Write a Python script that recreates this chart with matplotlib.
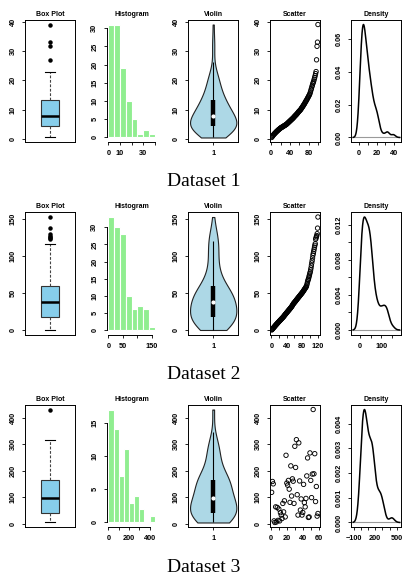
import numpy as np
import matplotlib
matplotlib.use("Agg")
import matplotlib.pyplot as plt

plt.rcParams['font.family'] = ['Liberation Sans', 'DejaVu Sans']

# raw values (datasets 1 and 2 are plotted sorted)
data1 = [0.6, 0.9, 1.1, 1.3, 1.5, 1.7, 1.9, 2.0, 2.2, 2.4, 2.5, 2.7, 2.8, 3.0, 3.1,
         3.3, 3.4, 3.5, 3.7, 3.8, 3.9, 4.0, 4.1, 4.2, 4.3, 4.4, 4.5, 4.6, 4.7, 4.8, 4.9,
         5.0, 5.1, 5.3, 5.4, 5.6, 5.7, 5.9, 6.0, 6.2, 6.3, 6.5, 6.6, 6.8, 6.9, 7.1,
         7.2, 7.4, 7.6, 7.8, 7.9, 8.1, 8.3, 8.4, 8.6, 8.8, 9.0, 9.2, 9.4, 9.6, 9.7, 9.9,
         10.1, 10.3, 10.6, 10.8, 11.0, 11.3, 11.5, 11.8, 12.0, 12.3, 12.6, 12.9, 13.1,
         13.4, 13.7, 14.0, 14.3, 14.6, 14.9,
         15.2, 15.6, 16.1, 16.7, 17.2, 17.8, 18.3, 18.9, 19.3, 19.8,
         20.4, 21.0, 21.6, 22.3, 23.0, 27.0, 31.6, 33.0, 39.0]

data2 = [0.5, 1.2, 1.8, 2.3, 3.0, 3.6, 4.1, 4.8, 5.5, 6.0, 6.7, 7.3, 7.9, 8.4, 9.0,
         9.6, 10.2, 10.8, 11.3, 11.9, 12.5, 13.0, 13.6, 14.1, 14.7, 15.2, 15.8, 16.3,
         16.9, 17.4, 18.0, 18.6, 19.3,
         20.0, 20.7, 21.3, 22.0, 22.6, 23.2, 23.9, 24.5, 25.1, 25.8, 26.4, 27.0, 27.6,
         28.3, 28.9, 29.5, 30.2, 30.8, 31.5, 32.2, 33.0, 33.9, 34.8, 35.6, 36.3, 37.0,
         37.6, 38.2, 38.8, 39.5,
         40.2, 40.9, 41.6, 42.2, 42.9, 43.5, 44.2, 44.8, 45.5, 46.1, 46.8, 47.4, 48.1,
         48.7, 49.4, 50.0, 50.7, 51.4, 52.1, 52.9, 53.7, 54.5, 55.3, 56.1, 56.9, 57.7,
         58.5, 59.3,
         61.0, 63.2, 65.5, 67.4, 68.9, 70.5, 72.8, 74.6, 76.9, 78.8,
         81.5, 84.3, 87.6, 91.0, 94.2, 97.8,
         101.5, 104.0, 106.8, 109.5, 112.3, 114.8, 117.0,
         123.0, 124.7, 126.5, 128.0, 130.5, 138.0, 153.0]

data3 = [118, 159, 150, 10, 4, 63, 6, 61, 12, 55, 10, 41, 32, 19, 76, 44, 86, 25,
         258, 153, 145, 163, 130, 80, 218, 104, 169, 160, 76, 292, 212, 317, 109, 32,
         305, 161, 51, 93, 32, 42, 148, 79, 63, 95, 180, 248, 23, 25, 267, 163, 98,
         187, 431, 188, 264, 83, 140, 28, 38]

# histogram breaks
breaks1 = [0, 5, 10, 15, 20, 25, 30, 35, 40]
breaks2 = [0, 20, 40, 60, 80, 100, 120, 140, 160]
breaks3 = [0, 50, 100, 150, 200, 250, 300, 350, 400, 450]

# tick values / labels (R drops labels that would overlap)
val_ticks = [[0, 10, 20, 30, 40], [0, 50, 100, 150], [0, 100, 200, 300, 400]]
hist_yticks = [[0, 5, 10, 15, 20, 25, 30], [0, 5, 10, 15, 20, 25, 30], [0, 5, 10, 15]]
hist_xticks = [[0, 10, 20, 30, 40], [0, 50, 100, 150], [0, 100, 200, 300, 400]]
hist_xlabels = [['0', '10', '', '30', ''], ['0', '50', '', '150'],
                ['0', '', '200', '', '400']]
sc_xticks = [[0, 20, 40, 60, 80, 100], [0, 20, 40, 60, 80, 100, 120],
             [0, 10, 20, 30, 40, 50, 60]]
sc_xlabels = [['0', '', '40', '', '80', ''], ['0', '', '40', '', '80', '', '120'],
              ['0', '', '20', '', '40', '', '60']]
dens_xticks = [[0, 10, 20, 30, 40], [0, 50, 100, 150],
               [-100, 0, 100, 200, 300, 400, 500]]
dens_xlabels = [['0', '', '20', '', '40'], ['0', '', '100', ''],
                ['\u2212100', '', '', '200', '', '', '500']]
dens_yticks = [[0, 0.02, 0.04, 0.06], [0, 0.002, 0.004, 0.006, 0.008, 0.010, 0.012],
               [0, 0.001, 0.002, 0.003, 0.004]]
dens_ylabels = [['0.00', '0.02', '0.04', '0.06'],
                ['0.000', '', '0.004', '', '0.008', '', '0.012'],
                ['0.000', '0.001', '0.002', '0.003', '0.004']]

datasets = [data1, data2, data3]
breaks = [breaks1, breaks2, breaks3]
sorted_scatter = [True, True, False]
titles = ['Box Plot', 'Histogram', 'Violin', 'Scatter', 'Density']


def rlim(lo, hi):
    pad = 0.04 * (hi - lo)
    return lo - pad, hi + pad


def nrd0(x):
    iqr = np.percentile(x, 75) - np.percentile(x, 25)
    lo = min(np.std(x, ddof=1), iqr / 1.34)
    return 0.9 * lo * len(x) ** -0.2


def kde(x, bw, grid):
    z = (grid[:, None] - x[None, :]) / bw
    return np.exp(-0.5 * z ** 2).sum(axis=1) / (len(x) * bw * np.sqrt(2 * np.pi))


def style(ax, frame=True):
    for s in ax.spines.values():
        s.set_linewidth(0.7)
        s.set_color('black')
    if not frame:
        ax.spines['top'].set_visible(False)
        ax.spines['right'].set_visible(False)
    ax.tick_params(length=2.5, width=0.6, labelsize=5.3, pad=3.5, color='black')
    for lab in ax.get_xticklabels() + ax.get_yticklabels():
        lab.set_fontweight('bold')


def set_y(ax, ticks, labels=None):
    ax.set_yticks(ticks)
    ax.set_yticklabels(labels if labels is not None else [str(t) for t in ticks],
                       rotation=90, va='center')


W, H = 408, 579
fig = plt.figure(figsize=(W / 100, H / 100), dpi=100)

for r in range(3):
    x = np.array(datasets[r], dtype=float)
    n = len(x)
    top = 20 + 192.5 * r
    axes = []
    for c in range(5):
        left = 25 + 81.6 * c
        ax = fig.add_axes([left / W, 1 - (top + 122) / H, 50 / W, 122 / H])
        ax.set_title(titles[c], fontsize=5, fontweight='bold', pad=3)
        axes.append(ax)
    ylim_vals = rlim(x.min(), x.max())

    # box plot
    ax = axes[0]
    ax.boxplot(x, positions=[1], widths=0.4, patch_artist=True, capwidths=0.2,
               boxprops=dict(facecolor='#87CEEB', edgecolor='#333333', linewidth=0.8),
               medianprops=dict(color='black', linewidth=1.8),
               whiskerprops=dict(color='#444444', linestyle=(0, (2.5, 1.5)), linewidth=0.8),
               capprops=dict(color='black', linewidth=0.8),
               flierprops=dict(marker='o', markerfacecolor='black',
                               markeredgecolor='black', markersize=2.2))
    ax.set_xlim(*rlim(0.5, 1.5))
    ax.set_ylim(*ylim_vals)
    ax.set_xticks([])
    set_y(ax, val_ticks[r])
    style(ax)

    # histogram
    ax = axes[1]
    counts, _, _ = ax.hist(x, bins=breaks[r], color='#90EE90', edgecolor='white',
                           linewidth=0.8)
    ax.set_xlim(*rlim(breaks[r][0], breaks[r][-1]))
    ax.set_ylim(*rlim(0, counts.max()))
    ax.set_xticks(hist_xticks[r])
    ax.set_xticklabels(hist_xlabels[r])
    set_y(ax, hist_yticks[r])
    style(ax, frame=False)
    ax.spines['left'].set_bounds(hist_yticks[r][0], hist_yticks[r][-1])
    ax.spines['bottom'].set_bounds(hist_xticks[r][0], hist_xticks[r][-1])

    # violin
    ax = axes[2]
    h_sm = 1.06 * np.std(x, ddof=1) * n ** -0.2
    parts = ax.violinplot(x, positions=[1], widths=1, showextrema=False, points=300,
                          bw_method=h_sm / np.std(x, ddof=1))
    for b in parts['bodies']:
        b.set_facecolor('#ADD8E6')
        b.set_edgecolor('#222222')
        b.set_linewidth(0.8)
        b.set_alpha(1)
    q1, med, q3 = np.percentile(x, [25, 50, 75])
    iqr = q3 - q1
    lo_adj = max(q1 - 1.5 * iqr, x.min())
    hi_adj = min(q3 + 1.5 * iqr, x.max())
    ax.vlines(1, lo_adj, hi_adj, color='black', linewidth=0.8)
    ax.vlines(1, q1, q3, color='black', linewidth=3.2)
    ax.plot([1], [med], 'o', color='white', markersize=2)
    ax.set_xlim(*rlim(0.5, 1.5))
    ax.set_ylim(*ylim_vals)
    ax.set_xticks([1])
    ax.set_xticklabels(['1'])
    set_y(ax, val_ticks[r])
    style(ax)

    # scatter
    ax = axes[3]
    idx = np.arange(1, n + 1)
    yv = np.sort(x) if sorted_scatter[r] else x
    ax.scatter(idx, yv, s=10, facecolors='none', edgecolors='black', linewidths=0.65)
    ax.set_xlim(*rlim(1, n))
    ax.set_ylim(*ylim_vals)
    ax.set_xticks(sc_xticks[r])
    ax.set_xticklabels(sc_xlabels[r])
    set_y(ax, val_ticks[r])
    style(ax)

    # density
    ax = axes[4]
    bw = nrd0(x)
    grid = np.linspace(x.min() - 3 * bw, x.max() + 3 * bw, 512)
    dens = kde(x, bw, grid)
    ax.axhline(0, color='#9a9a9a', linewidth=0.8)
    ax.plot(grid, dens, color='black', linewidth=1.1)
    ax.set_xlim(*rlim(grid[0], grid[-1]))
    ax.set_ylim(*rlim(0, dens.max()))
    ax.set_xticks(dens_xticks[r])
    ax.set_xticklabels(dens_xlabels[r])
    set_y(ax, dens_yticks[r], dens_ylabels[r])
    style(ax)

    fig.text(0.5, 1 - (top + 162) / H, 'Dataset %d' % (r + 1), ha='center', va='center',
             fontsize=14, family=['Liberation Serif', 'DejaVu Serif'])

fig.savefig('out.png', dpi=100)
